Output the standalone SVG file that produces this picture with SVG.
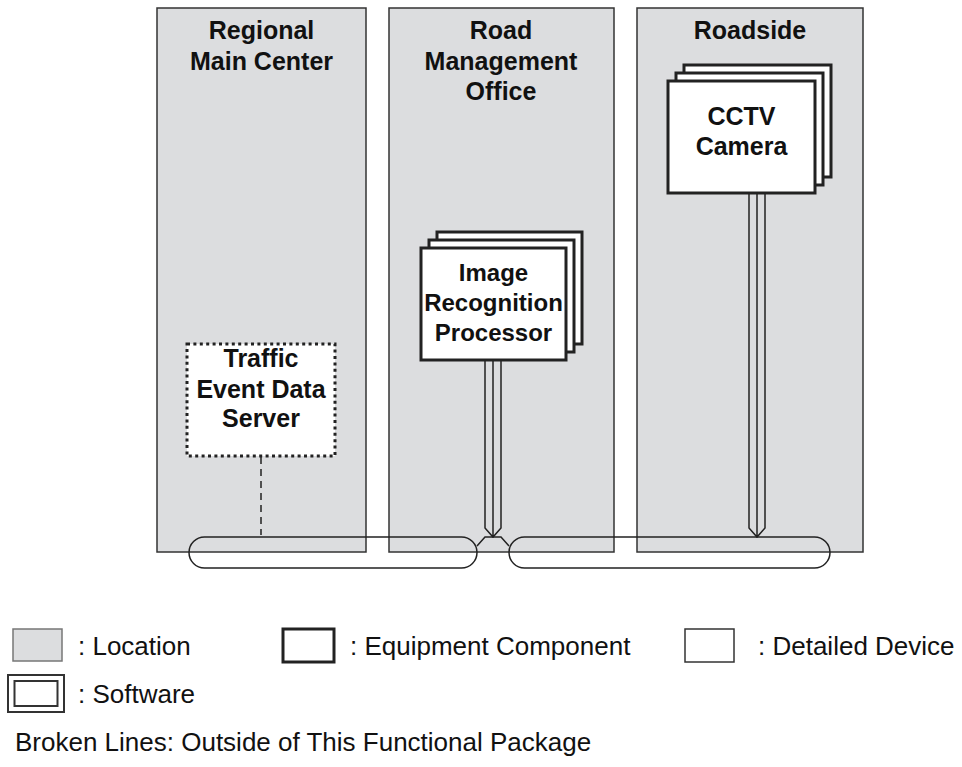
<svg xmlns="http://www.w3.org/2000/svg" width="962" height="767" viewBox="0 0 962 767">
<style>
.loc{fill:#dcdddf;stroke:#333;stroke-width:1.5}
.eq{fill:#fff;stroke:#222;stroke-width:3}
.dev{fill:#fff;stroke:#333;stroke-width:1.5}
.sw{fill:#fff;stroke:#333;stroke-width:2}
.dot{fill:#fff;stroke:#222;stroke-width:3;stroke-dasharray:3 3.4}
.ln{fill:none;stroke:#222;stroke-width:1.5}
.bus{fill:none;stroke:#222;stroke-width:1.5}
.dash{fill:none;stroke:#222;stroke-width:1.5;stroke-dasharray:7 5}
.t{font-family:"Liberation Sans",Arial,sans-serif;font-weight:bold;font-size:25px;fill:#111;text-anchor:middle}
.lg{font-family:"Liberation Sans",Arial,sans-serif;font-size:26px;fill:#111}
</style>
<g id="loc-regional">
<rect class="loc" x="157" y="8" width="209" height="544"/>
<text class="t" x="261.5" y="39">Regional</text>
<text class="t" x="261.5" y="70">Main Center</text>
</g>
<g id="loc-road">
<rect class="loc" x="389" y="8" width="225" height="544"/>
<text class="t" x="501" y="39">Road</text>
<text class="t" x="501" y="70">Management</text>
<text class="t" x="501" y="100">Office</text>
</g>
<g id="loc-roadside">
<rect class="loc" x="637" y="8" width="226" height="544"/>
<text class="t" x="750" y="39">Roadside</text>
</g>
<g id="connectors">
<path class="dash" d="M261 457 V535"/>
<path class="ln" d="M485 360 V528 L493 537 L501 528 V360 M493 360 V537"/>
<path class="ln" d="M749 193 V528 L757 537 L765 528 V193 M757 193 V537"/>
<path class="ln" d="M477 546 L485 537 H501 L509 546"/>
<rect class="bus" x="189" y="537" width="288" height="31" rx="15.5"/>
<rect class="bus" x="509" y="537" width="321" height="31" rx="15.5"/>
</g>
<g id="node-traffic">
<rect class="dot" x="187" y="344" width="148" height="112"/>
<text class="t" x="261" y="367">Traffic</text>
<text class="t" x="261" y="398">Event Data</text>
<text class="t" x="261" y="427">Server</text>
</g>
<g id="node-irp">
<rect class="eq" x="437" y="232" width="145" height="112"/>
<rect class="eq" x="429" y="240" width="145" height="112"/>
<rect class="eq" x="421" y="248" width="145" height="112"/>
<text class="t" x="493.5" y="281" style="font-size:24px">Image</text>
<text class="t" x="493.5" y="311" style="font-size:24px">Recognition</text>
<text class="t" x="493.5" y="341" style="font-size:24px">Processor</text>
</g>
<g id="node-cctv">
<rect class="eq" x="684" y="65" width="147" height="112"/>
<rect class="eq" x="676" y="73" width="147" height="112"/>
<rect class="eq" x="668" y="81" width="147" height="112"/>
<text class="t" x="741.5" y="125">CCTV</text>
<text class="t" x="741.5" y="155">Camera</text>
</g>
<g id="legend">
<rect class="loc" x="13" y="629" width="49" height="32" style="stroke:#777"/>
<text class="lg" x="78" y="655">: Location</text>
<rect class="eq" x="283" y="629" width="51" height="33"/>
<text class="lg" x="350" y="655">: Equipment Component</text>
<rect class="dev" x="685" y="629" width="49" height="33"/>
<text class="lg" x="758" y="655">: Detailed Device</text>
<rect class="sw" x="8" y="675" width="56" height="37"/>
<rect class="sw" x="14.5" y="681" width="43" height="25"/>
<text class="lg" x="78" y="703">: Software</text>
<text class="lg" x="15" y="751">Broken Lines: Outside of This Functional Package</text>
</g>
</svg>
